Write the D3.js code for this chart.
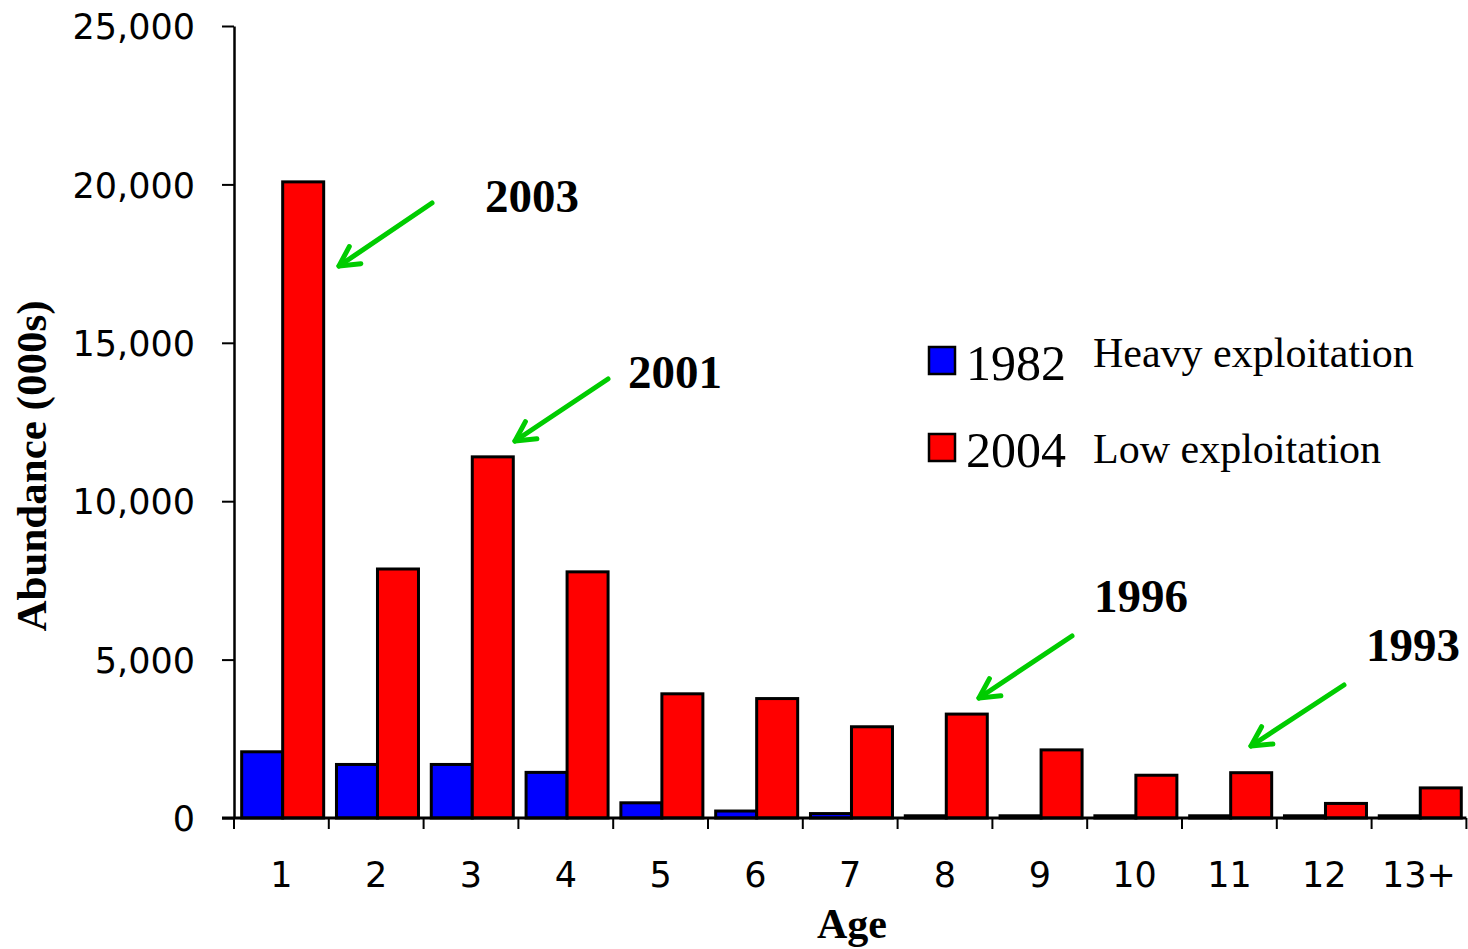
<!DOCTYPE html>
<html>
<head>
<meta charset="utf-8">
<script src="https://cdn.jsdelivr.net/npm/d3@7"></script>
<style>
  html, body { margin: 0; padding: 0; background: #fff; }
  svg { display: block; }
</style>
</head>
<body>
<svg id="chart" width="1468" height="949"></svg>
<script>
// ---------------- data ----------------
const ages = ["1", "2", "3", "4", "5", "6", "7", "8", "9", "10", "11", "12", "13+"];
const abundance1982 = [2090, 1690, 1690, 1440, 480, 220, 140, 70, 70, 70, 70, 70, 70];
const abundance2004 = [20080, 7860, 11400, 7770, 3920, 3770, 2880, 3280, 2150, 1350, 1430, 460, 950];
const yTickValues = [0, 5000, 10000, 15000, 20000, 25000];
const seriesYears = ["1982", "2004"];
const seriesNotes = ["Heavy exploitation", "Low exploitation"];
const cohortLabels = ["2003", "2001", "1996", "1993"];
const yTitle = "Abundance (000s)";
const xTitle = "Age";

// ---------------- layout ----------------
const svg = d3.select("#chart");
const plotLeft = 234, plotRight = 1466.4, plotTop = 26, plotBottom = 818;
const colors = { "1982": "#0000ff", "2004": "#ff0000" };
const tickFont = "'DejaVu Sans', sans-serif";
const serif = "'Liberation Serif', 'Times New Roman', serif";

const x = d3.scaleBand().domain(ages).range([plotLeft, plotRight]).paddingInner(0).paddingOuter(0);
const x1 = d3.scaleBand().domain(seriesYears).range([0, x.bandwidth()])
  .paddingInner(0).paddingOuter(0.156).align(0.6);
const y = d3.scaleLinear().domain([0, 25000]).range([plotBottom, plotTop]);

const rows = ages.map((a, i) => ({ age: a, values: [
  { key: "1982", v: abundance1982[i] },
  { key: "2004", v: abundance2004[i] }
]}));

// bars
const g = svg.append("g");
g.selectAll("g.age").data(rows).join("g")
  .attr("class", "age")
  .attr("transform", d => `translate(${x(d.age)},0)`)
  .selectAll("rect").data(d => d.values).join("rect")
  .attr("x", d => x1(d.key))
  .attr("width", x1.bandwidth())
  .attr("y", d => y(d.v))
  .attr("height", d => y(0) - y(d.v))
  .attr("fill", d => colors[d.key])
  .attr("stroke", "#000")
  .attr("stroke-width", 3);

// y axis
const yAxis = d3.axisLeft(y).tickValues(yTickValues).tickSize(12).tickSizeOuter(0)
  .tickFormat(d3.format(","));
const yg = svg.append("g").attr("transform", `translate(${plotLeft},0)`).call(yAxis);
yg.select(".domain").attr("stroke", "#000").attr("stroke-width", 2.5);
yg.selectAll(".tick line").attr("stroke", "#000").attr("stroke-width", 2);
yg.selectAll(".tick text")
  .attr("x", -39).attr("dy", "0.36em")
  .style("font-family", tickFont).style("font-size", "35px").attr("fill", "#000");

// x axis: ticks at category boundaries
const boundaries = ages.map(a => x(a)).concat([plotRight]);
const xg = svg.append("g");
xg.append("line").attr("x1", plotLeft - 12).attr("x2", plotRight).attr("y1", y(0)).attr("y2", y(0))
  .attr("stroke", "#000").attr("stroke-width", 3);
xg.selectAll("line.bt").data(boundaries).join("line").attr("class", "bt")
  .attr("x1", d => d).attr("x2", d => d).attr("y1", y(0)).attr("y2", y(0) + 11)
  .attr("stroke", "#000").attr("stroke-width", 2);
xg.selectAll("text").data(ages).join("text")
  .attr("x", d => x(d) + x.bandwidth() / 2)
  .attr("y", 887)
  .attr("text-anchor", "middle")
  .style("font-family", tickFont).style("font-size", "35px")
  .text(d => d);

// axis titles
svg.append("text")
  .attr("transform", "translate(46,466) rotate(-90)")
  .attr("text-anchor", "middle")
  .style("font-family", serif).style("font-weight", "bold").style("font-size", "43px")
  .text(yTitle);
svg.append("text")
  .attr("x", 852).attr("y", 938)
  .attr("text-anchor", "middle")
  .style("font-family", serif).style("font-weight", "bold").style("font-size", "42px")
  .text(xTitle);

// legend
const legendY = [347, 434];
const leg = svg.append("g");
seriesYears.forEach((s, i) => {
  leg.append("rect").attr("x", 929).attr("y", legendY[i]).attr("width", 26).attr("height", 27)
    .attr("fill", colors[s]).attr("stroke", "#000").attr("stroke-width", 2.5);
  leg.append("text").attr("x", 966).attr("y", legendY[i] + 33)
    .style("font-family", serif).style("font-size", "50px").text(s);
  leg.append("text").attr("x", 1093).attr("y", legendY[i] + 20 + (i ? 9 : 0))
    .style("font-family", serif).style("font-size", "42px").text(seriesNotes[i]);
});

// cohort annotations (label position, arrow start, arrow tip)
const annoLayout = [
  { tx: 485, ty: 212, sx: 432, sy: 203, ex: 339, ey: 266 },
  { tx: 628, ty: 388, sx: 608, sy: 379, ex: 515, ey: 441 },
  { tx: 1094, ty: 612, sx: 1072, sy: 636, ex: 979, ey: 698 },
  { tx: 1366, ty: 661, sx: 1344, sy: 685, ex: 1251, ey: 746 }
];
const green = "#00cc00";
cohortLabels.forEach((lab, i) => {
  const a = annoLayout[i];
  svg.append("text").attr("x", a.tx).attr("y", a.ty)
    .style("font-family", serif).style("font-weight", "bold").style("font-size", "47px")
    .text(lab);
  const ang = Math.atan2(a.sy - a.ey, a.sx - a.ex);
  const len = 22, spread = 28 * Math.PI / 180;
  const p1 = [a.ex + len * Math.cos(ang - spread), a.ey + len * Math.sin(ang - spread)];
  const p2 = [a.ex + len * Math.cos(ang + spread), a.ey + len * Math.sin(ang + spread)];
  svg.append("line").attr("x1", a.sx).attr("y1", a.sy).attr("x2", a.ex).attr("y2", a.ey)
    .attr("stroke", green).attr("stroke-width", 5).attr("stroke-linecap", "round");
  svg.append("path").attr("d", `M${p1[0]},${p1[1]}L${a.ex},${a.ey}L${p2[0]},${p2[1]}`)
    .attr("fill", "none").attr("stroke", green).attr("stroke-width", 5)
    .attr("stroke-linecap", "round").attr("stroke-linejoin", "round");
});
</script>
</body>
</html>
